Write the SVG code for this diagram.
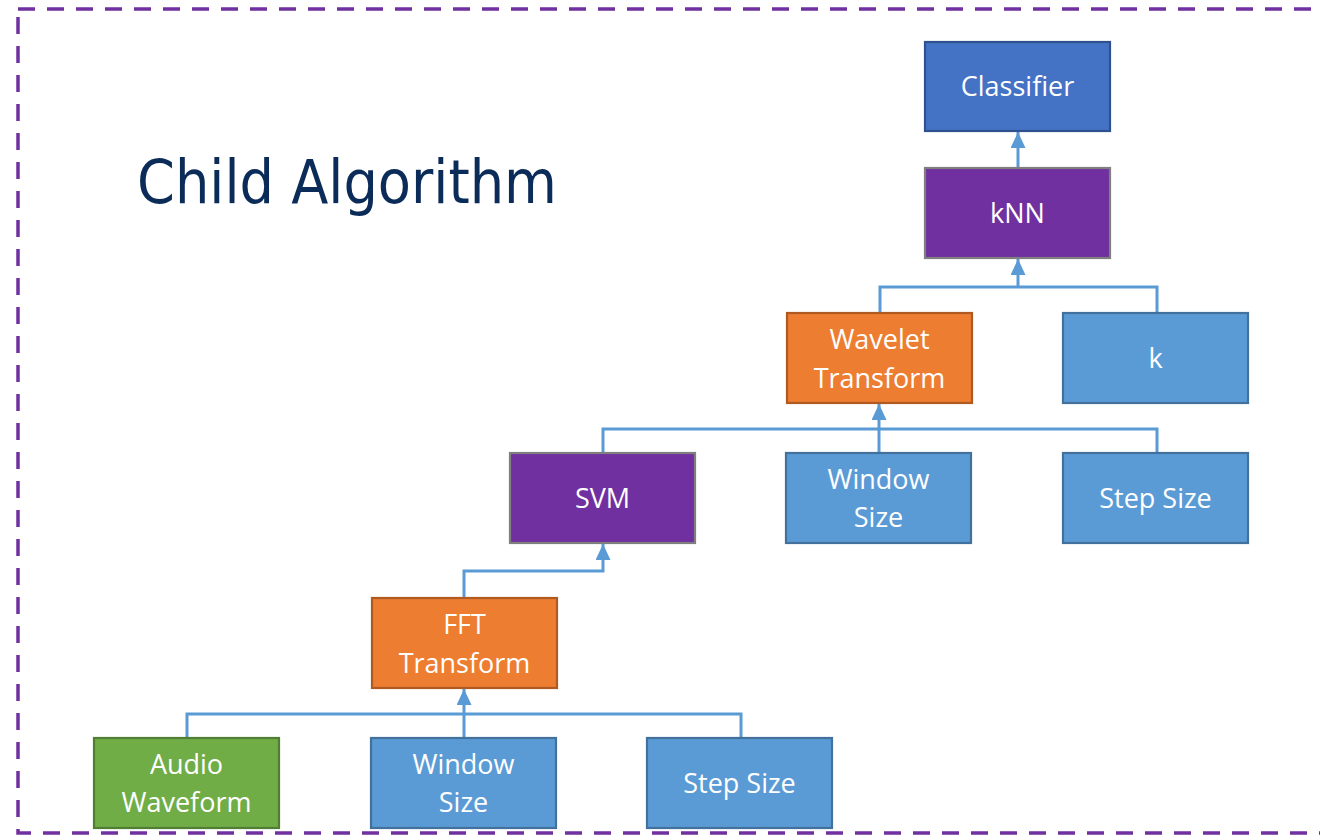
<svg xmlns="http://www.w3.org/2000/svg" width="1320" height="837" viewBox="0 0 1320 837">
  <style>
    .box { stroke-width: 2.2; }
    .blue { fill: #5B9BD5; stroke: #41719C; }
    .dblue { fill: #4472C4; stroke: #2F528F; }
    .purple { fill: #7030A0; stroke: #7F7F7F; }
    .orange { fill: #ED7D31; stroke: #AE5A21; }
    .green { fill: #70AD47; stroke: #507E32; }
    .lbl { font-family: "Open Sans", "Noto Sans", sans-serif; font-size: 27px; fill: #FFFFFF; text-anchor: middle; }
    .wire { fill: none; stroke: #5B9BD5; stroke-width: 3; }
    .title { font-family: "DejaVu Sans", sans-serif; font-size: 61px; fill: #0B2B59; }
  </style>
  <defs>
    <marker id="arrow" viewBox="0 0 16 15" refX="16" refY="7.5" markerWidth="16" markerHeight="15" markerUnits="userSpaceOnUse" orient="auto">
      <path d="M0,0 L16,7.5 L0,15 Z" fill="#5B9BD5"/>
    </marker>
  </defs>

  <rect width="1320" height="837" fill="#FFFFFF"/>

  <!-- dashed frame -->
  <rect x="18" y="9" width="1320" height="824" fill="none" stroke="#7030A0" stroke-width="3.5" stroke-dasharray="17 12"/>

  <text class="title" x="137" y="203" textLength="420" lengthAdjust="spacingAndGlyphs">Child Algorithm</text>

  <!-- connectors -->
  <g id="connectors">
    <path class="wire" d="M1018,168 L1018,132" marker-end="url(#arrow)"/>
    <path class="wire" d="M880,313 L880,287 L1157,287 L1157,313"/>
    <path class="wire" d="M1018,287 L1018,259" marker-end="url(#arrow)"/>
    <path class="wire" d="M603,453 L603,429 L1157,429 L1157,453"/>
    <path class="wire" d="M879,453 L879,404" marker-end="url(#arrow)"/>
    <path class="wire" d="M464,598 L464,571 L603,571 L603,544" marker-end="url(#arrow)"/>
    <path class="wire" d="M187,738 L187,714 L741,714 L741,738"/>
    <path class="wire" d="M464,738 L464,689" marker-end="url(#arrow)"/>
  </g>

  <g id="classifier">
    <rect class="box dblue" x="925" y="42" width="185" height="89"/>
    <text class="lbl" x="1017.5" y="96">Classifier</text>
  </g>
  <g id="knn">
    <rect class="box purple" x="925" y="168" width="185" height="90"/>
    <text class="lbl" x="1017.5" y="223">kNN</text>
  </g>
  <g id="wavelet">
    <rect class="box orange" x="787" y="313" width="185" height="90"/>
    <text class="lbl" x="879.5" y="349">Wavelet</text>
    <text class="lbl" x="879.5" y="388">Transform</text>
  </g>
  <g id="k">
    <rect class="box blue" x="1063" y="313" width="185" height="90"/>
    <text class="lbl" x="1155.5" y="368">k</text>
  </g>
  <g id="svm">
    <rect class="box purple" x="510" y="453" width="185" height="90"/>
    <text class="lbl" x="602.5" y="508">SVM</text>
  </g>
  <g id="window-size-2">
    <rect class="box blue" x="786" y="453" width="185" height="90"/>
    <text class="lbl" x="878.5" y="489">Window</text>
    <text class="lbl" x="878.5" y="527">Size</text>
  </g>
  <g id="step-size-2">
    <rect class="box blue" x="1063" y="453" width="185" height="90"/>
    <text class="lbl" x="1155.5" y="508">Step Size</text>
  </g>
  <g id="fft">
    <rect class="box orange" x="372" y="598" width="185" height="90"/>
    <text class="lbl" x="464.5" y="634">FFT</text>
    <text class="lbl" x="464.5" y="673">Transform</text>
  </g>
  <g id="audio">
    <rect class="box green" x="94" y="738" width="185" height="90"/>
    <text class="lbl" x="186.5" y="774">Audio</text>
    <text class="lbl" x="186.5" y="812">Waveform</text>
  </g>
  <g id="window-size-1">
    <rect class="box blue" x="371" y="738" width="185" height="90"/>
    <text class="lbl" x="463.5" y="774">Window</text>
    <text class="lbl" x="463.5" y="812">Size</text>
  </g>
  <g id="step-size-1">
    <rect class="box blue" x="647" y="738" width="185" height="90"/>
    <text class="lbl" x="739.5" y="793">Step Size</text>
  </g>
</svg>
